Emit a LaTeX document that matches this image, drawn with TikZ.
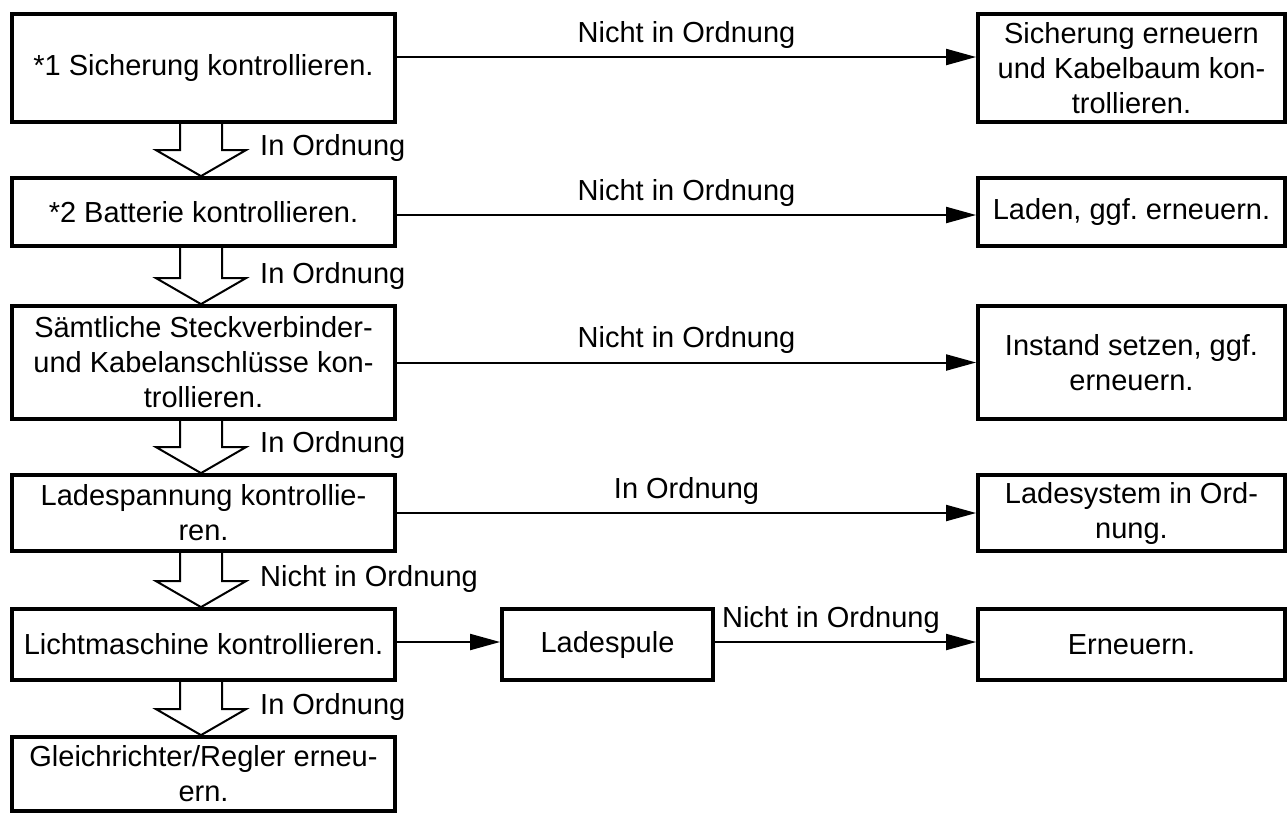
\documentclass[tikz,border=0pt]{standalone}
\usepackage{fontspec}
\setmainfont{Liberation Sans}
\usetikzlibrary{arrows.meta,calc}
\frenchspacing
\tikzset{
  flowbox/.style={draw, line width=3.8pt, inner sep=0pt, align=center,
    font=\fontsize{29pt}{35pt}\selectfont},
  conline/.style={line width=2pt, -{Triangle[length=30pt,width=16pt]}},
  hollowarr/.style={line width=2pt, line join=miter},
  lbl/.style={inner sep=0pt, font=\fontsize{29pt}{35pt}\selectfont}
}
\newcommand{\hollowarrow}[3]{%
  \draw[hollowarr] ($(#1.south)+(-23.5,0)$) -- ($(#2.north)+(-23.5,-26)$)
    -- ($(#2.north)+(-47.5,-26)$) -- ($(#2.north)+(-2.5,0)$)
    -- ($(#2.north)+(42.5,-26)$) -- ($(#2.north)+(18.5,-26)$)
    -- ($(#1.south)+(18.5,0)$);
  \node[lbl, anchor=base west] at ($(#2.north)+(56.5,-21)$) {#3};
}
\begin{document}
\begin{tikzpicture}[x=1pt,y=-1pt]
\useasboundingbox (0,0) rectangle (1288,815);
% left column
\node[flowbox, minimum width=383pt, minimum height=108pt] (B1) at (203.5,68) {*1 Sicherung kontrollieren.};
\node[flowbox, minimum width=383pt, minimum height=68pt] (B2) at (203.5,212) {*2 Batterie kontrollieren.};
\node[flowbox, minimum width=383pt, minimum height=113pt] (B3) at (203.5,362.5) {Sämtliche Steckverbinder-\\und Kabelanschlüsse kon-\\trollieren.};
\node[flowbox, minimum width=383pt, minimum height=76pt] (B4) at (203.5,513) {Ladespannung kontrollie-\\ren.};
\node[flowbox, minimum width=383pt, minimum height=71pt] (B5) at (203.5,644.5) {Lichtmaschine kontrollieren.};
\node[flowbox, minimum width=383pt, minimum height=74pt] (B6) at (203.5,774) {Gleichrichter/Regler erneu-\\ern.};
% right column
\node[flowbox, minimum width=307pt, minimum height=108pt] (R1) at (1131.5,68) {Sicherung erneuern\\und Kabelbaum kon-\\trollieren.};
\node[flowbox, minimum width=307pt, minimum height=68pt] (R2) at (1131.5,212) {Laden, ggf. erneuern.};
\node[flowbox, minimum width=307pt, minimum height=113pt] (R3) at (1131.5,362.5) {Instand setzen, ggf.\\erneuern.};
\node[flowbox, minimum width=307pt, minimum height=76pt] (R4) at (1131.5,513) {Ladesystem in Ord-\\nung.};
\node[flowbox, minimum width=307pt, minimum height=71pt] (R5) at (1131.5,644.5) {Erneuern.};
% middle
\node[flowbox, minimum width=211pt, minimum height=71pt] (L) at (607.5,644.5) {Ladespule};
% horizontal connectors
\draw[conline] ([yshift=11pt]B1.east) -- node[lbl, anchor=base, yshift=15pt] {Nicht in Ordnung} ([yshift=11pt]R1.west);
\draw[conline] ([yshift=-3pt]B2.east) -- node[lbl, anchor=base, yshift=15pt] {Nicht in Ordnung} ([yshift=-3pt]R2.west);
\draw[conline] (B3.east) -- node[lbl, anchor=base, yshift=15pt] {Nicht in Ordnung} (R3.west);
\draw[conline] (B4.east) -- node[lbl, anchor=base, yshift=15pt] {In Ordnung} (R4.west);
\draw[conline] ([yshift=2.5pt]B5.east) -- ([yshift=2.5pt]L.west);
\draw[conline] ([yshift=2.5pt]L.east) -- ([yshift=2.5pt]R5.west);
\node[lbl, anchor=base west] at ($([yshift=2.5pt]L.east)+(7,-15)$) {Nicht in Ordnung};
% hollow down arrows
\hollowarrow{B1}{B2}{In Ordnung}
\hollowarrow{B2}{B3}{In Ordnung}
\hollowarrow{B3}{B4}{In Ordnung}
\hollowarrow{B4}{B5}{Nicht in Ordnung}
\hollowarrow{B5}{B6}{In Ordnung}
\end{tikzpicture}
\end{document}
